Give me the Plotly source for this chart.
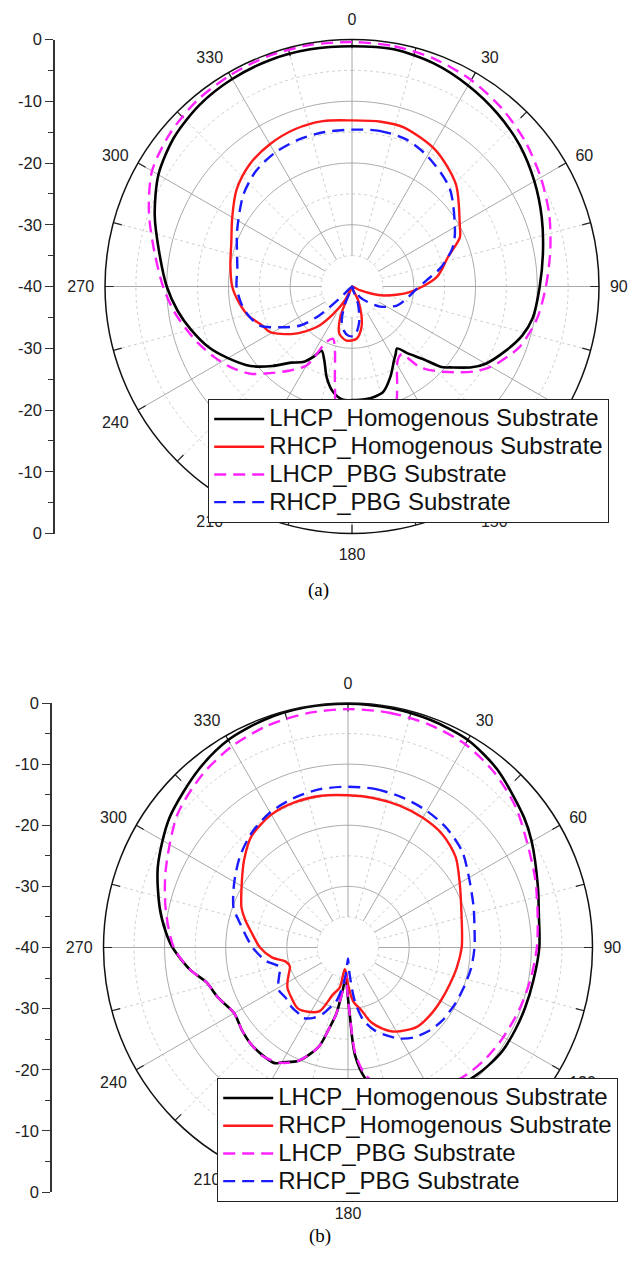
import plotly.graph_objects as go
import numpy as np

# ---------------- Panel (a) data (dB vs angle in degrees) ----------------
a_lhcp_homo_theta = [0, 10, 20, 30, 40, 50, 60, 70, 80, 90, 100, 106, 113, 120, 124, 129.5, 132, 135.5, 140, 144,
                     147, 150.5, 157, 163.5, 168, 173.5, 180, 184.5, 190, 195.5, 200.5, 205.3, 208.7, 213, 218.7, 225,
                     232, 240, 247, 255, 262, 270, 280, 290, 300, 310, 320, 330, 340, 350, 360]
a_lhcp_homo_r = [-1.1, -1.0, -1.5, -2.4, -3.4, -4.5, -5.9, -7.3, -8.6, -9.6, -10.3, -11.3, -13.1, -15.0, -16.6, -19.4,
                 -20.5, -23.5, -25.8, -27.6, -27.0, -26.2, -24.1, -22.2, -21.8, -21.6, -21.6, -21.6, -22.6, -24.7,
                 -27.2, -28.5, -27.0, -25.4, -24.2, -21.8, -19.1, -16.8, -14.8, -13.0, -11.5, -10.0, -8.3, -6.0, -3.8,
                 -2.4, -1.6, -1.2, -1.0, -1.0, -1.1]

a_rhcp_homo_theta = [0, 10, 18, 31.5, 45.5, 60.8, 65.5, 72.8, 83.7, 95.6, 106, 115, 135, 156, 162, 167, 175, 186, 195,
                     201, 203.5, 207, 214.4, 221, 231, 241, 247, 254, 262, 270, 280, 290, 300, 310, 320, 330, 340, 350,
                     360]
a_rhcp_homo_r = [-13.1, -12.9, -12.9, -14.1, -16.4, -20.0, -20.8, -23.7, -26.2, -30.6, -34.7, -38.5, -40, -37.5, -35.0,
                 -33.2, -31.5, -31.2, -32.1, -34.7, -40, -37.5, -34.6, -31.3, -27.8, -24.8, -24.1, -22.6, -21.5, -20.6,
                 -20.0, -19.2, -17.6, -15.6, -14.2, -13.4, -12.9, -12.8, -13.1]

a_lhcp_pbg_theta = [0, 10, 20, 30, 40, 50, 60, 70, 80, 90, 100, 110, 120, 125, 130, 135, 140, 143.8, 148, 152, 156, 160,
                    166, 172, 180, 186, 190, 195, 200, 205, 209.8, 216.4, 223.4, 229.4, 236, 243, 250, 256, 262, 270,
                    280, 290, 300, 310, 320, 330, 340, 350, 360]
a_lhcp_pbg_r = [-0.4, -0.5, -0.8, -1.4, -2.3, -3.4, -4.7, -6.0, -7.4, -8.6, -9.6, -11.2, -14.0, -16.0, -18.4, -20.6,
                -23.0, -26.4, -26.0, -24.5, -22.0, -19.3, -17.0, -16.0, -16.0, -18.0, -24.1, -29.3, -31.0, -30.0, -25.3,
                -23.1, -20.7, -18.3, -16.5, -14.9, -13.4, -12.2, -10.9, -9.4, -7.5, -5.0, -2.6, -1.5, -0.8, -0.5, -0.3,
                -0.3, -0.4]

a_rhcp_pbg_theta = [0, 10, 20, 30, 45, 63, 69.5, 78, 85, 92, 103, 113, 125.5, 135, 143, 152, 161, 169, 177, 184, 191,
                    197, 202, 207, 226, 228.5, 233, 240.5, 247, 255, 262, 270, 279, 288, 296, 310, 320, 330, 340, 350,
                    360]
a_rhcp_pbg_r = [-14.6, -14.4, -14.6, -15.6, -17.6, -21.3, -22.7, -25.3, -27.8, -29.5, -31.0, -32.1, -34.4, -36.5, -37.8,
                -40, -37, -34, -32, -32, -32.8, -34.3, -37, -40, -38, -33, -29.5, -26.6, -23.8, -22.5, -21.8, -21.3,
                -21.2, -20.4, -19.3, -17.0, -15.7, -15.0, -14.7, -14.6, -14.6]

# ---------------- Panel (b) data ----------------
b_lhcp_homo_theta = [0, 10, 20, 30, 40, 53.6, 60, 72.4, 80, 90, 100, 108.7, 116, 124, 130, 135, 142, 150, 160, 168,
                     172.5, 176.3, 178.5, 181, 184, 187, 190, 193, 196.4, 203.5, 209.7, 212.4, 218.5, 225, 232, 240,
                     249, 256, 262, 270, 274.8, 282, 293, 306, 320, 330, 340, 350, 360]
b_lhcp_homo_r = [-0.1, -0.2, -0.4, -0.8, -2.0, -4.2, -5.3, -7.4, -8.3, -8.7, -9.2, -9.4, -9.5, -9.6, -10.0, -10.4,
                 -11.1, -12.2, -14.0, -16.0, -18.4, -22.4, -29.0, -33.0, -35.5, -33.0, -29.0, -26.5, -23.1, -19.8,
                 -18.4, -17.6, -17.5, -17.6, -18.0, -18.5, -17.2, -16.2, -13.9, -11.3, -10.1, -8.5, -6.2, -3.9, -2.0,
                 -0.8, -0.3, -0.1, -0.1]

b_rhcp_homo_theta = [0, 10, 20, 30, 40, 50, 60, 64.5, 72, 83, 90, 100.5, 110, 120, 130, 139, 150.6, 157, 162.8, 168,
                     174.6, 180, 184, 188.5, 191.7, 197.8, 204, 212, 219.8, 228, 236.3, 241, 246, 252, 257.5, 262.4,
                     270, 278, 285, 290.5, 300, 310, 319, 330, 340, 350, 360]
b_rhcp_homo_r = [-15.1, -15.2, -15.3, -15.5, -15.9, -17.0, -18.9, -19.6, -20.5, -21.2, -21.4, -21.9, -22.3, -22.5,
                 -22.6, -22.8, -24.2, -25.6, -27.2, -29.5, -31.2, -34.0, -35.8, -36.4, -33.3, -31.9, -28.6, -27.6,
                 -27.1, -27.6, -28.1, -28.7, -29.4, -30.0, -29.5, -27.5, -25.6, -24.2, -22.6, -21.4, -19.9, -17.8,
                 -15.9, -14.9, -14.7, -14.8, -15.1]

b_lhcp_pbg_theta = [0, 10, 20, 30, 40, 50, 60, 70, 80, 90, 100, 110, 121, 130, 137.5, 145, 155, 165, 172, 176, 178.5,
                    181, 184, 187, 190, 193, 196.4, 203.5, 210, 218, 225, 232, 240, 249, 256, 262, 270, 282, 293, 308,
                    320, 330, 340, 350, 360]
b_lhcp_pbg_r = [-1.0, -1.0, -1.2, -1.6, -2.7, -4.2, -6.1, -7.4, -8.5, -9.1, -9.7, -10.2, -10.7, -11.1, -11.6, -12.4,
                -14.0, -16.5, -18.8, -22.6, -29.0, -33.0, -35.5, -33.0, -29.0, -26.5, -23.1, -19.8, -18.2, -17.4,
                -17.6, -18.0, -18.5, -17.2, -16.2, -13.9, -11.5, -9.5, -7.6, -4.6, -3.0, -2.0, -1.4, -1.1, -1.0]

b_rhcp_pbg_theta = [0, 10, 20, 30, 40, 50, 59.7, 72, 80, 90, 100, 110, 117.6, 128, 136, 144, 150.6, 156, 162, 168,
                    172.8, 177, 180, 184, 188, 192.3, 196, 200.7, 206, 212.7, 216.5, 224, 231, 239, 247.5, 254, 260.7,
                    270, 276, 283.8, 289, 299.5, 310, 320, 330, 340, 350, 360]
b_rhcp_pbg_r = [-13.7, -13.7, -13.9, -14.2, -14.7, -15.6, -17.1, -18.4, -19.0, -19.3, -19.6, -20.0, -20.2, -20.5,
                -21.0, -21.8, -22.9, -24.2, -25.7, -27.8, -31.2, -36.0, -38.2, -36.0, -33.5, -31.0, -30.0, -28.4,
                -27.2, -26.3, -26.5, -26.6, -26.9, -26.7, -27.8, -28.4, -26.4, -24.4, -23.3, -21.6, -20.2, -18.6,
                -16.9, -15.5, -14.5, -14.0, -13.7, -13.7]

# ---------------- labels / axes ----------------
series_names = ["LHCP_Homogenous Substrate", "RHCP_Homogenous Substrate",
                "LHCP_PBG Substrate", "RHCP_PBG Substrate"]
angle_tick_vals = list(range(0, 360, 15))
angle_tick_text = [str(v) if v % 30 == 0 else "" for v in angle_tick_vals]
left_tick_vals = [-40, -30, -20, -10, 0, 10, 20, 30, 40]
left_tick_text = ["0", "-10", "-20", "-30", "-40", "-30", "-20", "-10", "0"]
r_min, r_max = -40, 0
grid_levels = [-35, -30, -25, -20, -15, -10, -5]
captions = ["(a)", "(b)"]

# ---------------- styling ----------------
SANS = "Liberation Sans, Arial, sans-serif"
SERIF = "Liberation Serif, Times New Roman, serif"
styles = [dict(color="black", width=2.6, dash="solid"),
          dict(color="#ff1a1a", width=2.4, dash="solid"),
          dict(color="#ff22ff", width=2.4, dash="12px,7px"),
          dict(color="#1a1aff", width=2.4, dash="12px,7px")]
GRID_SOLID = "#a8a8a8"
GRID_DOT = "#cfcfcf"
LEGEND_TEXT_PX = 24

fig = go.Figure()


def add_grid(subplot):
    circle_theta = np.arange(0, 361, 1)
    for lvl in grid_levels:
        solid = (lvl % 10 == 0)
        fig.add_trace(go.Scatterpolar(
            r=[lvl] * len(circle_theta), theta=circle_theta, mode="lines",
            line=dict(color=GRID_SOLID if solid else GRID_DOT, width=1, dash="solid" if solid else "dot"),
            showlegend=False, hoverinfo="skip", subplot=subplot))
    solid_t, solid_r, dot_t, dot_r, tick_t, tick_r = [], [], [], [], [], []
    for ang in angle_tick_vals:
        if ang % 30 == 0:
            solid_t += [ang, ang, None]
            solid_r += [grid_levels[0], r_max, None]
        else:
            dot_t += [ang, ang, None]
            dot_r += [grid_levels[0], r_max, None]
        tick_t += [ang, ang, None]
        tick_r += [r_max - 1.4, r_max, None]
    fig.add_trace(go.Scatterpolar(r=solid_r, theta=solid_t, mode="lines",
                                  line=dict(color=GRID_SOLID, width=1), showlegend=False,
                                  hoverinfo="skip", subplot=subplot))
    fig.add_trace(go.Scatterpolar(r=dot_r, theta=dot_t, mode="lines",
                                  line=dict(color=GRID_DOT, width=1, dash="dot"), showlegend=False,
                                  hoverinfo="skip", subplot=subplot))
    fig.add_trace(go.Scatterpolar(r=tick_r, theta=tick_t, mode="lines",
                                  line=dict(color="#222222", width=1.2), showlegend=False,
                                  hoverinfo="skip", subplot=subplot))


panels = [
    ("polar", "legend", [(a_lhcp_homo_theta, a_lhcp_homo_r), (a_rhcp_homo_theta, a_rhcp_homo_r),
                         (a_lhcp_pbg_theta, a_lhcp_pbg_r), (a_rhcp_pbg_theta, a_rhcp_pbg_r)]),
    ("polar2", "legend2", [(b_lhcp_homo_theta, b_lhcp_homo_r), (b_rhcp_homo_theta, b_rhcp_homo_r),
                           (b_lhcp_pbg_theta, b_lhcp_pbg_r), (b_rhcp_pbg_theta, b_rhcp_pbg_r)]),
]

for subplot, legend_id, series in panels:
    add_grid(subplot)
    for name, (th, rr), st in zip(series_names, series, styles):
        fig.add_trace(go.Scatterpolar(
            r=rr, theta=th, mode="lines",
            name="<span style='font-size:%gpx'>%s</span>" % (LEGEND_TEXT_PX, name),
            line=dict(color=st["color"], width=st["width"], dash=st["dash"], shape="spline", smoothing=0.8),
            subplot=subplot, legend=legend_id, hoverinfo="skip"))

# empty cartesian traces so the left dB rulers are drawn
fig.add_trace(go.Scatter(x=[], y=[], xaxis="x", yaxis="y", showlegend=False, hoverinfo="skip"))
fig.add_trace(go.Scatter(x=[], y=[], xaxis="x2", yaxis="y2", showlegend=False, hoverinfo="skip"))

W, H = 633, 1265


def polar_layout(x0, x1, y0, y1):
    return dict(
        domain=dict(x=[x0 / W, x1 / W], y=[1 - y1 / H, 1 - y0 / H]),
        bgcolor="rgba(0,0,0,0)",
        radialaxis=dict(range=[r_min, r_max], showgrid=False, showline=False, showticklabels=False,
                        ticks=""),
        angularaxis=dict(rotation=90, direction="clockwise", tickmode="array",
                         tickvals=angle_tick_vals, ticktext=angle_tick_text,
                         ticks="outside", ticklen=7, tickcolor="rgba(0,0,0,0)",
                         showgrid=False, showline=True, linecolor="#111111", linewidth=1.5,
                         tickfont=dict(family=SANS, size=16, color="#222222")),
    )


def left_axis(y0, y1):
    return dict(domain=[1 - y1 / H, 1 - y0 / H], range=[-40, 40], tickmode="array",
                tickvals=left_tick_vals, ticktext=left_tick_text, ticks="outside", ticklen=8,
                tickwidth=1.4, tickcolor="#333333", showline=True, linecolor="#333333", linewidth=1.5,
                showgrid=False, zeroline=False, side="left", automargin=False,
                minor=dict(dtick=5, ticks="outside", ticklen=5, tickcolor="#333333", tickwidth=1.2,
                           showgrid=False),
                tickfont=dict(family=SANS, size=16.5, color="#222222"), fixedrange=True)


def legend_layout(x_px, y_px):
    return dict(x=x_px / W, y=1 - y_px / H, xanchor="left", yanchor="top",
                bgcolor="white", bordercolor="#222222", borderwidth=1.2,
                font=dict(family=SANS, size=19, color="#111111"),
                itemwidth=50, tracegroupgap=0)


fig.update_layout(
    width=W, height=H, margin=dict(l=0, r=0, t=0, b=0, autoexpand=False),
    paper_bgcolor="white", plot_bgcolor="white",
    polar=polar_layout(105, 599, 39.5, 533.5),
    polar2=polar_layout(103.5, 592.5, 703, 1192),
    xaxis=dict(domain=[55 / W, 60 / W], visible=False, anchor="y", range=[0, 1], fixedrange=True),
    yaxis=dict(anchor="x", **left_axis(39.5, 533.5)),
    xaxis2=dict(domain=[52 / W, 57 / W], visible=False, anchor="y2", range=[0, 1], fixedrange=True),
    yaxis2=dict(anchor="x2", **left_axis(703, 1192)),
    legend=legend_layout(208, 399),
    legend2=legend_layout(217, 1078),
    annotations=[
        dict(text=captions[0], x=318 / W, y=1 - 590 / H, xref="paper", yref="paper", showarrow=False,
             font=dict(family=SERIF, size=19, color="black")),
        dict(text=captions[1], x=320 / W, y=1 - 1249 / H, xref="paper", yref="paper", showarrow=False,
             font=dict(family=SERIF, size=19, color="black")),
    ],
)

fig.write_html("out.html", config={"displayModeBar": False},
               post_script="document.body.style.margin='0px';")
